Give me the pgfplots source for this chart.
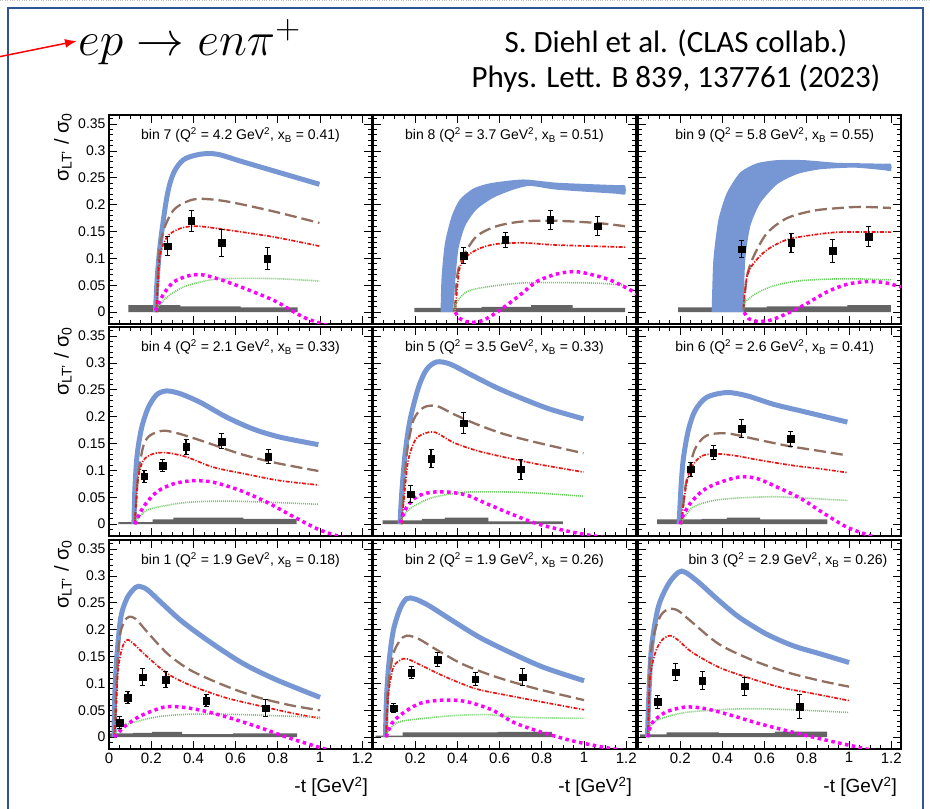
\documentclass[border=0pt]{standalone}
\usepackage{fontspec}
\setmainfont{Liberation Sans}
\newfontfamily\calibri{Carlito}
\usepackage{graphicx}
\usepackage{pgfplots}
\pgfplotsset{compat=1.18}
\usetikzlibrary{arrows.meta}

\definecolor{bandblue}{RGB}{118,150,212}
\definecolor{gkbrown}{RGB}{145,112,98}
\definecolor{gkred}{RGB}{235,20,20}
\definecolor{gkgreen}{RGB}{105,205,95}
\definecolor{gkmagenta}{RGB}{255,0,255}
\definecolor{sysgray}{RGB}{100,100,100}
\definecolor{slideblue}{RGB}{47,85,151}

\newcommand{\titlefont}{\fontsize{14}{14}\selectfont}

\pgfplotsset{
  panel/.style={
    scale only axis, width=263pt, height=209pt,
    xmin=0, xmax=1.246, ymin=-0.022, ymax=0.367,
    xtick={0,0.2,0.4,0.6,0.8,1,1.2},
    ytick={0,0.05,0.1,0.15,0.2,0.25,0.3,0.35},
    minor xtick={0.05,0.1,...,1.21},
    minor ytick={-0.02,-0.01,...,0.365},
    tick align=inside,
    major tick length=8pt, minor tick length=4pt,
    axis line style={line width=1.1pt},
    every tick/.style={black, line width=0.8pt},
    xticklabels={}, yticklabels={},
    x tick label style={font=\fontsize{15}{15}\selectfont},
    y tick label style={font=\fontsize{14}{14}\selectfont},
  },
  firstcol/.style={yticklabels={0,0.05,0.1,0.15,0.2,0.25,0.3,0.35}},
  bottomfirst/.style={xticklabels={0,0.2,0.4,0.6,0.8,1,1.2}},
  bottomother/.style={xticklabels={,0.2,0.4,0.6,0.8,1,1.2}},
  sysbar/.style={const plot, fill=sysgray, draw=none},
  band/.style={bandblue, line width=5pt, line cap=butt, smooth, tension=0.5},
  wideband/.style={fill=bandblue, draw=none, smooth, tension=0.4},
  gkdash/.style={gkbrown, line width=2.3pt, dash pattern=on 12pt off 5pt, smooth, tension=0.5},
  gkdashdot/.style={gkred, line width=1.7pt, dash pattern=on 4pt off 1.5pt on 1.2pt off 1.5pt, smooth, tension=0.5},
  gkdot/.style={gkgreen, line width=1.6pt, dash pattern=on 1pt off 1pt, smooth, tension=0.5},
  gkmag/.style={gkmagenta, line width=3.5pt, dash pattern=on 3.5pt off 3.5pt, smooth, tension=0.5},
  clasdata/.style={only marks, mark=square*, mark size=3.3pt, black,
    error bars/.cd, y dir=both, y explicit,
    error bar style={line width=1.2pt, black},
    error mark options={rotate=90, mark size=2.5pt, line width=1pt, black}},
}

\begin{document}
\begin{tikzpicture}
\useasboundingbox (0pt,0pt) rectangle (930pt,809pt);

% slide frame and header
\draw[gray!50, dotted] (0pt,808.3pt) -- (930pt,808.3pt);
\draw[slideblue, line width=2pt] (8pt,-5pt) -- (8pt,801pt) -- (923pt,801pt) -- (923pt,-5pt);
\draw[red, line width=1.5pt, -{Latex[length=12pt,width=9pt]}] (-2pt,752pt) -- (77pt,768pt);
\node[anchor=west, inner sep=0pt] at (78pt,767pt) {\scalebox{2.3}{\fontsize{20}{20}\selectfont $ep\rightarrow en\pi^{+}$}};
\node[font=\calibri\fontsize{31}{31}\selectfont, anchor=base] at (676pt,756pt) {S. Diehl et al. (CLAS collab.)};
\node[font=\calibri\fontsize{31}{31}\selectfont, anchor=base] at (676pt,721pt) {Phys. Lett. B 839, 137761 (2023)};

% ---------------- bin 7 ----------------
\begin{axis}[panel, firstcol, at={(109pt,485pt)}, anchor=south west]
\addplot[sysbar] coordinates {(0.092,0.013) (0.338,0.011) (0.624,0.009) (0.894,0.009)} \closedcycle;
\addplot[band] coordinates {(0.22,0) (0.228,0.06) (0.243,0.128) (0.275,0.216) (0.306,0.259) (0.354,0.284) (0.433,0.294) (0.513,0.294) (0.624,0.281) (0.78,0.263) (0.997,0.238)};
\addplot[gkdash] coordinates {(0.225,0) (0.235,0.103) (0.259,0.153) (0.306,0.19) (0.37,0.206) (0.433,0.211) (0.56,0.206) (0.78,0.1875) (0.997,0.166)};
\addplot[gkdashdot] coordinates {(0.225,0) (0.24,0.1) (0.275,0.14) (0.338,0.156) (0.417,0.16) (0.544,0.154) (0.78,0.14) (0.997,0.123)};
\addplot[gkdot] coordinates {(0.22,0.003) (0.275,0.028) (0.354,0.047) (0.465,0.059) (0.56,0.0625) (0.78,0.0625) (0.997,0.058)};
\addplot[gkmag] coordinates {(0.22,0.003) (0.259,0.034) (0.306,0.056) (0.37,0.067) (0.433,0.07) (0.513,0.0625) (0.624,0.047) (0.78,0.022) (0.878,0) (0.94,-0.0125) (1.036,-0.025)};
\addplot[clasdata] coordinates {(0.279,0.123) +- (0,0.018) (0.39,0.17) +- (0,0.019) (0.533,0.129) +- (0,0.025) (0.75,0.1) +- (0,0.021)};
\node[font=\titlefont, anchor=base, yshift=-25pt] at (rel axis cs:0.5,1) {bin 7 (Q\textsuperscript{2} = 4.2 GeV\textsuperscript{2}, x\textsubscript{B} = 0.41)};
\end{axis}

% ---------------- bin 8 ----------------
\begin{axis}[panel, at={(373pt,485pt)}, anchor=south west]
\addplot[sysbar] coordinates {(0.196,0.008) (0.515,0.01) (0.749,0.013) (0.946,0.008) (1.194,0.008)} \closedcycle;
% band: upper edge out, lower edge back
\addplot[wideband] coordinates {(0.32,0) (0.325,0.066) (0.341,0.129) (0.373,0.179) (0.412,0.21) (0.475,0.23) (0.555,0.24) (0.712,0.247) (0.87,0.241) (1.15,0.2365) (1.194,0.236)
  (1.194,0.219) (1.15,0.2205) (0.87,0.228) (0.744,0.235) (0.665,0.228) (0.57,0.213) (0.49,0.191) (0.436,0.16) (0.404,0.116) (0.389,0.054) (0.38,0)} -- cycle;
\addplot[gkdash] coordinates {(0.388,0) (0.395,0.05) (0.404,0.079) (0.428,0.104) (0.49,0.141) (0.586,0.16) (0.712,0.169) (0.87,0.17) (1.06,0.166) (1.194,0.16)};
\addplot[gkdashdot] coordinates {(0.39,0) (0.409,0.079) (0.444,0.104) (0.507,0.119) (0.586,0.127) (0.712,0.129) (0.87,0.125) (1.194,0.121)};
\addplot[gkdot] coordinates {(0.39,0) (0.393,0.016) (0.444,0.038) (0.539,0.047) (0.696,0.054) (0.855,0.055) (1.06,0.054) (1.194,0.05)};
\addplot[gkmag] coordinates {(0.39,0) (0.412,-0.012) (0.46,-0.019) (0.523,-0.015) (0.602,0.004) (0.697,0.032) (0.776,0.057) (0.87,0.071) (0.95,0.0755) (1.013,0.072) (1.123,0.06) (1.234,0.038) (1.26,0.03)};
\addplot[clasdata] coordinates {(0.43,0.105) +- (0,0.015) (0.627,0.135) +- (0,0.014) (0.84,0.172) +- (0,0.018) (1.065,0.16) +- (0,0.018)};
\node[font=\titlefont, anchor=base, yshift=-25pt] at (rel axis cs:0.5,1) {bin 8 (Q\textsuperscript{2} = 3.7 GeV\textsuperscript{2}, x\textsubscript{B} = 0.51)};
\end{axis}

% ---------------- bin 9 ----------------
\begin{axis}[panel, at={(638pt,485pt)}, anchor=south west]
\addplot[sysbar] coordinates {(0.19,0.009) (0.611,0.011) (0.992,0.013) (1.198,0.013)} \closedcycle;
\addplot[wideband] coordinates {(0.349,0) (0.357,0.097) (0.381,0.172) (0.421,0.222) (0.484,0.26) (0.563,0.277) (0.659,0.283) (0.786,0.283) (0.944,0.278) (1.087,0.277) (1.16,0.2762) (1.198,0.276)
  (1.198,0.263) (1.16,0.2645) (1.024,0.269) (0.865,0.266) (0.754,0.257) (0.659,0.238) (0.579,0.203) (0.532,0.16) (0.508,0.097) (0.5,0)} -- cycle;
\addplot[gkdash] coordinates {(0.5,0.004) (0.516,0.066) (0.548,0.104) (0.611,0.147) (0.706,0.175) (0.833,0.189) (0.96,0.194) (1.056,0.196) (1.198,0.194)};
\addplot[gkdashdot] coordinates {(0.5,0.01) (0.516,0.066) (0.548,0.091) (0.611,0.116) (0.706,0.135) (0.833,0.144) (0.96,0.149) (1.198,0.149)};
\addplot[gkdot] coordinates {(0.5,0.016) (0.548,0.032) (0.627,0.047) (0.738,0.057) (0.865,0.061) (1.024,0.062) (1.198,0.06)};
\addplot[gkmag] coordinates {(0.503,0) (0.524,-0.012) (0.563,-0.017) (0.627,-0.015) (0.706,-0.0025) (0.786,0.013) (0.897,0.038) (0.992,0.052) (1.087,0.057) (1.167,0.055) (1.246,0.047)};
\addplot[clasdata] coordinates {(0.492,0.117) +- (0,0.016) (0.725,0.129) +- (0,0.0175) (0.921,0.114) +- (0,0.022) (1.092,0.141) +- (0,0.019)};
\node[font=\titlefont, anchor=base, yshift=-25pt] at (rel axis cs:0.52,1) {bin 9 (Q\textsuperscript{2} = 5.8 GeV\textsuperscript{2}, x\textsubscript{B} = 0.55)};
\end{axis}

% ---------------- bin 4 ----------------
\begin{axis}[panel, firstcol, at={(109pt,273pt)}, anchor=south west]
\addplot[sysbar] coordinates {(0.044,0.004) (0.207,0.009) (0.305,0.012) (0.637,0.01) (0.889,0.01)} \closedcycle;
\addplot[band] coordinates {(0.118,0) (0.123,0.069) (0.134,0.131) (0.155,0.18) (0.186,0.217) (0.226,0.241) (0.273,0.248) (0.336,0.243) (0.431,0.227) (0.558,0.199) (0.684,0.177) (0.81,0.162) (0.992,0.148)};
\addplot[gkdash] coordinates {(0.122,0) (0.13,0.05) (0.139,0.094) (0.163,0.146) (0.194,0.165) (0.257,0.174) (0.336,0.168) (0.463,0.152) (0.62,0.131) (0.779,0.115) (0.992,0.099)};
\addplot[gkdashdot] coordinates {(0.122,0) (0.13,0.05) (0.139,0.088) (0.163,0.119) (0.21,0.131) (0.273,0.133) (0.368,0.125) (0.494,0.106) (0.652,0.093) (0.81,0.081) (0.992,0.073)};
\addplot[gkdot] coordinates {(0.122,0) (0.131,0.007) (0.179,0.026) (0.273,0.035) (0.384,0.041) (0.542,0.043) (0.747,0.041) (0.992,0.037)};
\addplot[gkmag] coordinates {(0.122,0) (0.163,0.032) (0.226,0.06) (0.305,0.075) (0.4,0.081) (0.494,0.078) (0.62,0.063) (0.747,0.041) (0.874,0.014) (1.0,-0.011) (1.126,-0.027) (1.2,-0.035)};
\addplot[clasdata] coordinates {(0.166,0.089) +- (0,0.011) (0.253,0.109) +- (0,0.011) (0.365,0.144) +- (0,0.014) (0.534,0.154) +- (0,0.014) (0.755,0.126) +- (0,0.013)};
\node[font=\titlefont, anchor=base, yshift=-25pt] at (rel axis cs:0.5,1) {bin 4 (Q\textsuperscript{2} = 2.1 GeV\textsuperscript{2}, x\textsubscript{B} = 0.33)};
\end{axis}

% ---------------- bin 5 ----------------
\begin{axis}[panel, at={(373pt,273pt)}, anchor=south west]
\addplot[sysbar] coordinates {(0.046,0.007) (0.231,0.01) (0.341,0.012) (0.547,0.005) (0.899,0.005)} \closedcycle;
\addplot[band] coordinates {(0.128,0) (0.136,0.057) (0.152,0.131) (0.175,0.193) (0.215,0.254) (0.254,0.288) (0.302,0.302) (0.365,0.298) (0.46,0.279) (0.586,0.254) (0.712,0.233) (0.839,0.214) (0.997,0.196)};
\addplot[gkdash] coordinates {(0.135,0) (0.144,0.051) (0.16,0.131) (0.191,0.193) (0.239,0.217) (0.302,0.22) (0.381,0.205) (0.491,0.186) (0.618,0.168) (0.776,0.152) (0.997,0.132)};
\addplot[gkdashdot] coordinates {(0.135,0) (0.15,0.06) (0.167,0.119) (0.199,0.156) (0.239,0.168) (0.294,0.171) (0.381,0.152) (0.491,0.137) (0.618,0.125) (0.776,0.112) (0.997,0.097)};
\addplot[gkdot] coordinates {(0.13,0) (0.136,0.01) (0.175,0.029) (0.27,0.048) (0.381,0.057) (0.46,0.06) (0.618,0.06) (0.776,0.058) (0.997,0.052)};
\addplot[gkmag] coordinates {(0.128,0.002) (0.16,0.032) (0.207,0.051) (0.27,0.059) (0.349,0.06) (0.444,0.054) (0.539,0.038) (0.649,0.02) (0.776,0.001) (0.934,-0.014) (1.123,-0.027) (1.2,-0.032)};
\addplot[clasdata] coordinates {(0.179,0.056) +- (0,0.016) (0.275,0.122) +- (0,0.017) (0.43,0.188) +- (0,0.019) (0.701,0.102) +- (0,0.019)};
\node[font=\titlefont, anchor=base, yshift=-25pt] at (rel axis cs:0.5,1) {bin 5 (Q\textsuperscript{2} = 3.5 GeV\textsuperscript{2}, x\textsubscript{B} = 0.33)};
\end{axis}

% ---------------- bin 6 ----------------
\begin{axis}[panel, at={(638pt,273pt)}, anchor=south west]
\addplot[sysbar] coordinates {(0.09,0.009) (0.302,0.01) (0.421,0.012) (0.579,0.009) (0.897,0.009)} \closedcycle;
\addplot[band] coordinates {(0.195,0) (0.202,0.057) (0.214,0.119) (0.238,0.174) (0.27,0.211) (0.325,0.236) (0.421,0.245) (0.516,0.239) (0.643,0.223) (0.77,0.211) (0.897,0.199) (0.992,0.19)};
\addplot[gkdash] coordinates {(0.205,0) (0.222,0.063) (0.238,0.094) (0.27,0.14) (0.325,0.165) (0.421,0.169) (0.548,0.159) (0.706,0.146) (0.865,0.136) (0.992,0.128)};
\addplot[gkdashdot] coordinates {(0.205,0) (0.222,0.057) (0.246,0.1) (0.294,0.125) (0.357,0.131) (0.452,0.128) (0.579,0.119) (0.738,0.109) (0.865,0.103) (0.992,0.096)};
\addplot[gkdot] coordinates {(0.205,0) (0.214,0.01) (0.262,0.032) (0.357,0.044) (0.484,0.049) (0.643,0.051) (0.77,0.049) (0.992,0.044)};
\addplot[gkmag] coordinates {(0.2,0) (0.206,0.01) (0.246,0.038) (0.309,0.063) (0.389,0.078) (0.484,0.088) (0.563,0.085) (0.659,0.069) (0.77,0.048) (0.881,0.02) (0.992,-0.006) (1.103,-0.022) (1.183,-0.033)};
\addplot[clasdata] coordinates {(0.251,0.102) +- (0,0.013) (0.357,0.133) +- (0,0.013) (0.492,0.178) +- (0,0.016) (0.722,0.159) +- (0,0.014)};
\node[font=\titlefont, anchor=base, yshift=-25pt] at (rel axis cs:0.52,1) {bin 6 (Q\textsuperscript{2} = 2.6 GeV\textsuperscript{2}, x\textsubscript{B} = 0.41)};
\end{axis}

% ---------------- bin 1 ----------------
\begin{axis}[panel, firstcol, bottomfirst, at={(109pt,60pt)}, anchor=south west]
\addplot[sysbar] coordinates {(0.005,0.007) (0.114,0.008) (0.204,0.01) (0.346,0.0055) (0.588,0.007) (0.891,0.007)} \closedcycle;
\addplot[band] coordinates {(0.024,0) (0.027,0.074) (0.037,0.149) (0.056,0.223) (0.087,0.26) (0.127,0.279) (0.151,0.28) (0.183,0.274) (0.246,0.251) (0.341,0.217) (0.468,0.18) (0.627,0.139) (0.786,0.108) (1.0,0.074)};
\addplot[gkdash] coordinates {(0.026,0) (0.032,0.074) (0.048,0.18) (0.071,0.214) (0.095,0.224) (0.127,0.22) (0.183,0.195) (0.278,0.155) (0.389,0.124) (0.548,0.096) (0.706,0.074) (0.865,0.059) (1.0,0.05)};
\addplot[gkdashdot] coordinates {(0.026,0) (0.032,0.037) (0.043,0.124) (0.063,0.167) (0.087,0.181) (0.119,0.173) (0.183,0.149) (0.278,0.118) (0.389,0.096) (0.548,0.074) (0.706,0.059) (0.865,0.045) (1.0,0.035)};
\addplot[gkdot] coordinates {(0.026,0) (0.032,0.009) (0.071,0.022) (0.151,0.031) (0.23,0.038) (0.341,0.042) (0.468,0.043) (0.627,0.042) (0.786,0.04) (1.0,0.037)};
\addplot[gkmag] coordinates {(0.026,0) (0.071,0.019) (0.151,0.04) (0.262,0.056) (0.341,0.056) (0.437,0.05) (0.563,0.037) (0.706,0.019) (0.865,-0.003) (1.024,-0.022) (1.135,-0.034) (1.2,-0.04)};
\addplot[clasdata] coordinates {(0.051,0.027) +- (0,0.011) (0.09,0.074) +- (0,0.011) (0.159,0.112) +- (0,0.016) (0.27,0.107) +- (0,0.015) (0.46,0.068) +- (0,0.011) (0.741,0.054) +- (0,0.016)};
\node[font=\titlefont, anchor=base, yshift=-25pt] at (rel axis cs:0.5,1) {bin 1 (Q\textsuperscript{2} = 1.9 GeV\textsuperscript{2}, x\textsubscript{B} = 0.18)};
\end{axis}

% ---------------- bin 2 ----------------
\begin{axis}[panel, bottomother, at={(373pt,60pt)}, anchor=south west]
\addplot[sysbar] coordinates {(0.012,0.003) (0.14,0.009) (0.592,0.01) (0.848,0.01)} \closedcycle;
\addplot[band] coordinates {(0.059,0) (0.064,0.074) (0.075,0.136) (0.096,0.198) (0.128,0.239) (0.16,0.258) (0.2,0.257) (0.264,0.245) (0.376,0.217) (0.504,0.186) (0.648,0.158) (0.808,0.13) (1.0,0.105)};
\addplot[gkdash] coordinates {(0.062,0) (0.066,0.06) (0.075,0.105) (0.096,0.155) (0.128,0.18) (0.16,0.189) (0.216,0.183) (0.296,0.164) (0.424,0.136) (0.584,0.112) (0.776,0.09) (1.0,0.069)};
\addplot[gkdashdot] coordinates {(0.062,0) (0.068,0.05) (0.075,0.087) (0.096,0.13) (0.128,0.143) (0.16,0.146) (0.232,0.133) (0.344,0.112) (0.488,0.09) (0.648,0.077) (0.808,0.065) (1.0,0.051)};
\addplot[gkdot] coordinates {(0.062,0) (0.072,0.012) (0.12,0.028) (0.216,0.034) (0.376,0.04) (0.536,0.042) (0.696,0.037) (1.0,0.035)};
\addplot[gkmag] coordinates {(0.062,0) (0.088,0.025) (0.136,0.043) (0.216,0.062) (0.296,0.068) (0.376,0.069) (0.456,0.065) (0.568,0.05) (0.664,0.028) (0.776,0.012) (0.936,-0.006) (1.096,-0.019) (1.24,-0.028)};
\addplot[clasdata] coordinates {(0.099,0.054) +- (0,0.009) (0.181,0.12) +- (0,0.011) (0.307,0.144) +- (0,0.013) (0.485,0.108) +- (0,0.012) (0.709,0.112) +- (0,0.015)};
\node[font=\titlefont, anchor=base, yshift=-25pt] at (rel axis cs:0.5,1) {bin 2 (Q\textsuperscript{2} = 1.9 GeV\textsuperscript{2}, x\textsubscript{B} = 0.26)};
\end{axis}

% ---------------- bin 3 ----------------
\begin{axis}[panel, bottomother, at={(638pt,60pt)}, anchor=south west]
\addplot[sysbar] coordinates {(0.01,0.005) (0.136,0.009) (0.384,0.0075) (0.648,0.0105) (0.896,0.0105)} \closedcycle;
\addplot[band] coordinates {(0.045,0) (0.051,0.074) (0.064,0.167) (0.096,0.242) (0.144,0.285) (0.192,0.307) (0.224,0.307) (0.288,0.288) (0.384,0.254) (0.48,0.223) (0.608,0.192) (0.736,0.17) (0.864,0.155) (1.0,0.139)};
\addplot[gkdash] coordinates {(0.048,0) (0.056,0.136) (0.08,0.198) (0.112,0.229) (0.152,0.239) (0.192,0.235) (0.256,0.214) (0.384,0.173) (0.544,0.143) (0.704,0.121) (0.864,0.105) (1.0,0.094)};
\addplot[gkdashdot] coordinates {(0.048,0) (0.056,0.105) (0.08,0.155) (0.112,0.18) (0.152,0.189) (0.192,0.18) (0.256,0.158) (0.384,0.13) (0.512,0.112) (0.672,0.093) (0.832,0.081) (1.0,0.068)};
\addplot[gkdot] coordinates {(0.048,0) (0.064,0.025) (0.128,0.037) (0.224,0.046) (0.384,0.051) (0.544,0.053) (0.736,0.051) (1.0,0.046)};
\addplot[gkmag] coordinates {(0.048,0) (0.064,0.025) (0.128,0.046) (0.224,0.056) (0.32,0.053) (0.448,0.04) (0.576,0.025) (0.736,0.009) (0.896,-0.006) (1.024,-0.017) (1.152,-0.028) (1.24,-0.034)};
\addplot[clasdata] coordinates {(0.093,0.066) +- (0,0.012) (0.179,0.121) +- (0,0.016) (0.304,0.105) +- (0,0.017) (0.506,0.095) +- (0,0.017) (0.765,0.057) +- (0,0.022)};
\node[font=\titlefont, anchor=base, yshift=-25pt] at (rel axis cs:0.57,1) {bin 3 (Q\textsuperscript{2} = 2.9 GeV\textsuperscript{2}, x\textsubscript{B} = 0.26)};
\end{axis}

% axis titles
\foreach \ytop in {696,482,269} {
  \node[rotate=90, anchor=east, font=\fontsize{20}{20}\selectfont, inner sep=0pt] at (63pt,\ytop pt) {σ\textsubscript{LT'} / σ\textsubscript{0}};
}
\foreach \xr in {368,632,897} {
  \node[anchor=base east, font=\fontsize{19}{19}\selectfont, inner sep=0pt] at (\xr pt,16pt) {-t [GeV\textsuperscript{2}]};
}
\end{tikzpicture}
\end{document}
